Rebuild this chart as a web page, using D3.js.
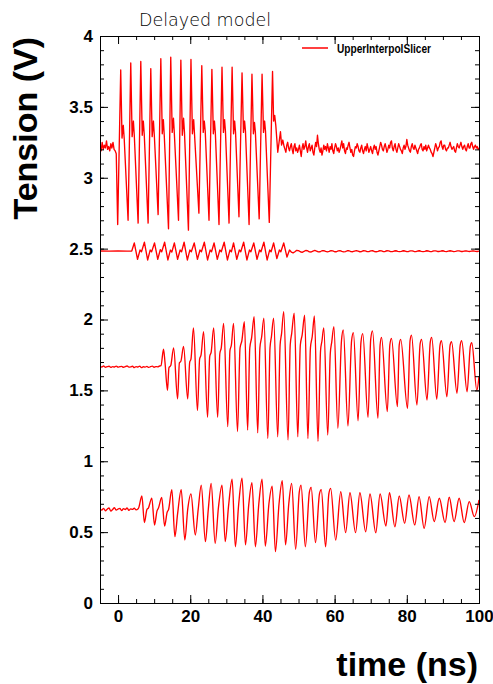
<!DOCTYPE html>
<html><head><meta charset="utf-8">
<script src="https://cdn.jsdelivr.net/npm/d3@7"></script>
<style>body{margin:0;background:#fff;} svg{display:block;}</style>
</head><body>
<svg id="c" width="493" height="684"></svg>
<script>
// ---------- text / ticks ----------
const chartTitle = "Delayed model";
const xTitle = "time (ns)";
const yTitle = "Tension (V)";
const legendLabel = "UpperInterpolSlicer";
const xTicks = [0, 20, 40, 60, 80, 100];
const xTickLabels = ["0", "20", "40", "60", "80", "100"];
const yTicks = [0, 0.5, 1, 1.5, 2, 2.5, 3, 3.5, 4];
const yTickLabels = ["0", "0.5", "1", "1.5", "2", "2.5", "3", "3.5", "4"];
const xDomain = [-5, 100];
const yDomain = [0, 4];

// ---------- trace A (upper, ~3.2 V) ----------
const upperPreStart = -5, upperPreStep = 0.3;
const upperPre = [3.22,3.19,3.25,3.20,3.23,3.21,3.26,3.20,3.22,3.19,3.24,3.21,3.25,3.20,3.19,3.17];
const upperMid = [
 [-0.1,2.67],[0.74,3.76],[1.1,3.28],[1.45,3.37],[1.7,3.28],
 [2.78,2.70],[3.52,3.81],[3.9,3.29],[4.25,3.40],[4.5,3.30],
 [5.56,2.68],[6.3,3.82],[6.7,3.30],[7.0,3.40],[7.25,3.31],
 [8.33,2.68],[9.07,3.77],[9.45,3.29],[9.8,3.40],[10.05,3.30],
 [11.1,2.74],[11.85,3.84],[12.25,3.31],[12.55,3.41],[12.8,3.30],
 [13.98,2.64],[14.6,3.85],[15.0,3.32],[15.35,3.42],[15.6,3.31],
 [16.75,2.70],[17.4,3.83],[17.8,3.30],[18.15,3.42],[18.4,3.32],
 [19.5,2.63],[20.2,3.835],[20.6,3.31],[20.95,3.41],[21.2,3.30],
 [22.4,2.75],[23.2,3.79],[23.6,3.32],[23.9,3.40],[24.15,3.33],
 [25.2,2.70],[26.0,3.765],[26.4,3.31],[26.7,3.40],[26.95,3.32],
 [27.97,2.67],[28.8,3.78],[29.2,3.32],[29.5,3.41],[29.75,3.33],
 [30.75,2.68],[31.6,3.78],[32.0,3.31],[32.3,3.40],[32.55,3.32],
 [33.5,2.725],[34.35,3.74],[34.75,3.32],[35.05,3.40],[35.3,3.33],
 [36.3,2.67],[37.1,3.73],[37.5,3.31],[37.8,3.39],[38.05,3.32],
 [39.1,2.71],[39.9,3.73],[40.3,3.32],[40.6,3.40],[40.85,3.33],
 [41.9,2.685],[42.8,3.75],[43.1,3.40],[43.4,3.44],[43.7,3.37],
 [44.25,3.18],[45.0,3.325],[45.3,3.23],[45.65,3.266]
];
const upperTailStart = 46, upperTailStep = 0.25;
const upperTail = [
 3.22,3.20,3.18,3.23,3.25,3.21,3.19,3.22,3.24,3.20,
 3.17,3.22,3.24,3.19,3.21,3.18,3.20,3.23,3.19,3.15,
 3.21,3.24,3.20,3.22,3.26,3.21,3.18,3.22,3.24,3.19,
 3.21,3.23,3.18,3.16,3.21,3.25,3.22,3.30,3.24,3.20,
 3.18,3.21,3.16,3.19,3.23,3.20,3.22,3.19,3.24,3.21,
 3.18,3.22,3.20,3.24,3.19,3.17,3.21,3.24,3.22,3.19,
 3.21,3.18,3.20,3.23,3.26,3.21,3.24,3.19,3.17,3.21,
 3.20,3.23,3.25,3.21,3.18,3.20,3.16,3.15,3.19,3.22,
 3.21,3.24,3.22,3.19,3.18,3.21,3.23,3.19,3.17,3.20,
 3.22,3.19,3.24,3.21,3.18,3.20,3.22,3.19,3.17,3.21,
 3.23,3.20,3.22,3.18,3.16,3.19,3.22,3.25,3.23,3.20,
 3.19,3.22,3.24,3.21,3.18,3.20,3.23,3.21,3.25,3.26,
 3.21,3.19,3.22,3.24,3.20,3.18,3.21,3.24,3.22,3.20,
 3.19,3.17,3.21,3.23,3.20,3.22,3.27,3.23,3.21,3.19,
 3.18,3.22,3.24,3.21,3.20,3.23,3.21,3.19,3.17,3.20,
 3.21,3.23,3.24,3.20,3.19,3.22,3.20,3.23,3.19,3.21,
 3.23,3.21,3.20,3.18,3.17,3.15,3.18,3.21,3.24,3.22,
 3.19,3.21,3.22,3.25,3.26,3.22,3.20,3.23,3.23,3.20,
 3.19,3.21,3.21,3.23,3.25,3.22,3.20,3.21,3.22,3.19,
 3.18,3.21,3.24,3.22,3.21,3.23,3.25,3.22,3.20,3.22,
 3.23,3.20,3.19,3.22,3.24,3.21,3.21,3.24,3.25,3.22,
 3.20,3.22,3.23,3.21,3.22,3.20,3.21
];

// ---------- trace B (~2.48 V) ----------
const bMid = [
 [-5,2.483],[-2.5,2.482],[0,2.484],[2.5,2.482],[3.8,2.483],
 [4.5,2.54],[5.4,2.425],[6.1,2.49],[6.5,2.478],
 [7.3,2.545],[8.2,2.42],[8.9,2.49],[9.3,2.478],
 [10.1,2.54],[11.0,2.425],[11.7,2.492],[12.1,2.478],
 [12.9,2.545],[13.8,2.42],[14.5,2.49],[14.9,2.476],
 [15.6,2.54],[16.5,2.425],[17.2,2.49],[17.6,2.478],
 [18.3,2.545],[19.2,2.42],[19.9,2.49],[20.3,2.478],
 [21.1,2.54],[22.0,2.425],[22.7,2.49],[23.1,2.478],
 [23.9,2.545],[24.8,2.42],[25.5,2.49],[25.9,2.478],
 [26.6,2.54],[27.5,2.425],[28.2,2.49],[28.6,2.478],
 [29.4,2.545],[30.3,2.42],[31.0,2.49],[31.4,2.478],
 [32.0,2.54],[32.9,2.425],[33.6,2.49],[34.0,2.478],
 [34.8,2.545],[35.7,2.42],[36.4,2.49],[36.8,2.478],
 [37.6,2.54],[38.5,2.425],[39.2,2.49],[39.6,2.478],
 [40.4,2.545],[41.3,2.42],[42.0,2.49],[42.4,2.478],
 [43.1,2.54],[44.0,2.43],[44.7,2.49],[45.1,2.478],
 [45.9,2.54],[46.8,2.44],[47.5,2.49]
];
const bTailStart = 48, bTailStep = 0.5;
const bTail = [
 2.476,2.470,2.478,2.488,2.486,2.478,2.474,2.480,2.487,2.485,
 2.477,2.476,2.483,2.487,2.483,2.477,2.478,2.485,2.486,2.480,
 2.477,2.480,2.486,2.484,2.478,2.478,2.484,2.486,2.481,2.477,
 2.479,2.485,2.485,2.479,2.478,2.483,2.486,2.482,2.478,2.480,
 2.485,2.484,2.479,2.479,2.484,2.485,2.480,2.478,2.481,2.485,
 2.484,2.479,2.480,2.485,2.484,2.479,2.479,2.483,2.485,2.481,
 2.479,2.481,2.485,2.483,2.479,2.480,2.484,2.484,2.480,2.479,
 2.483,2.485,2.481,2.479,2.481,2.485,2.483,2.479,2.480,2.484,
 2.484,2.480,2.480,2.483,2.485,2.481,2.479,2.482,2.485,2.482,
 2.479,2.481,2.484,2.484,2.480,2.480,2.483,2.484,2.481,2.480,
 2.483,2.484,2.481,2.480,2.482
];

// ---------- trace C (~1.67 V) ----------
const cPreStart = -5, cPreStep = 0.5;
const cPre = [
 1.668,1.665,1.672,1.663,1.667,1.670,1.662,1.668,1.665,1.671,
 1.664,1.667,1.669,1.663,1.668,1.672,1.664,1.666,1.670,1.661,
 1.668,1.665,1.671,1.660,1.667,1.664,1.669,1.662,1.667,1.671,
 1.663,1.668,1.666,1.672
];
const cMid = [
 [11.9,1.675],[12.6,1.79],[13.0,1.70],[13.7,1.50],[14.1,1.66],[14.6,1.675],
 [15.4,1.80],[16.5,1.44],[17.0,1.695],[17.4,1.705],
 [18.15,1.81],[19.3,1.44],[19.85,1.70],[20.2,1.72],
 [20.9,1.94],[22.0,1.357],[22.6,1.72],[23.0,1.75],
 [23.7,1.914],[24.8,1.31],[25.4,1.74],[25.8,1.77],
 [26.5,1.94],[27.6,1.31],[28.2,1.76],[28.6,1.80],
 [29.25,1.973],[30.4,1.244],[31.0,1.78],[31.4,1.82],
 [32.0,1.973],[33.1,1.21],[33.8,1.80],[34.3,1.85],
 [35.0,1.985],[35.9,1.22],[36.5,1.80],[37.0,1.87],
 [37.7,2.02],[38.7,1.20],[39.3,1.80],[39.8,1.88],
 [40.4,2.01],[41.5,1.16],[42.1,1.80],[42.5,1.88],
 [43.1,2.01],[44.25,1.173],[44.9,1.82],[45.3,1.90],
 [45.9,2.055],[47.1,1.15],[47.7,1.82],[48.1,1.90],
 [48.8,2.044],[49.8,1.173],[50.5,1.82],[51.0,1.89],
 [51.7,2.03],[52.6,1.16],[53.3,1.80],[53.8,1.88],
 [54.4,2.025],[55.4,1.14],[56.1,1.78],[56.5,1.85],
 [57.0,1.94],[58.1,1.185],[58.8,1.76],[59.2,1.84],
 [59.8,1.95],[60.9,1.232],[61.9,1.85],
 [62.4,1.926],[63.7,1.249],[64.7,1.85],
 [65.2,1.907],[66.5,1.286],[67.3,1.84],
 [67.8,1.90],[69.25,1.31],[70.0,1.86],
 [70.5,1.92],[72.0,1.303],[72.6,1.82],
 [73.0,1.874],[74.6,1.35],[75.3,1.82],
 [75.75,1.867],[77.4,1.385],[77.9,1.82],
 [78.3,1.86],[80.2,1.373],[80.9,1.85],
 [81.3,1.89],[82.8,1.397],[83.7,1.83],
 [84.1,1.86],[85.6,1.432],[86.5,1.84],
 [86.9,1.874],[88.3,1.437],[89.2,1.82],
 [89.6,1.85],[91.1,1.455],[92.0,1.82],
 [92.4,1.843],[93.9,1.48],[94.8,1.82],
 [95.2,1.85],[96.7,1.49],[97.6,1.81],
 [98.0,1.836],[99.4,1.50],[100,1.60]
];

// ---------- trace D (~0.66 V) ----------
const dPreStart = -5, dPreStep = 0.5;
const dPre = [
 0.665,0.655,0.668,0.650,0.662,0.670,0.648,0.660,0.672,0.655,
 0.663,0.668,0.652,0.666,0.659,0.671,0.654,0.664,0.660,0.669,
 0.657,0.663
];
const dMid = [
 [5.7,0.67],[6.6,0.755],[7.3,0.567],[8.0,0.66],[8.4,0.67],
 [9.35,0.74],[10.1,0.55],[10.8,0.65],[11.2,0.67],
 [12.1,0.745],[12.9,0.543],[13.6,0.64],[14.0,0.66],
 [14.9,0.80],[15.75,0.468],[16.5,0.63],
 [17.5,0.80],[18.5,0.444],[19.3,0.66],
 [20.2,0.77],[21.4,0.48],[22.2,0.66],
 [23.05,0.832],[24.2,0.433],[25.0,0.66],
 [25.8,0.844],[26.9,0.421],[27.8,0.67],
 [28.8,0.832],[29.7,0.433],[30.6,0.68],
 [31.6,0.873],[32.5,0.397],[33.4,0.69],
 [34.35,0.88],[35.3,0.41],[36.2,0.69],
 [37.1,0.849],[38.05,0.397],[39.0,0.70],
 [39.9,0.873],[40.8,0.402],[41.8,0.70],
 [42.7,0.825],[43.6,0.362],[44.6,0.70],
 [45.5,0.863],[46.4,0.41],[47.3,0.70],
 [48.1,0.844],[49.2,0.379],[50.2,0.78],
 [50.7,0.832],[51.9,0.397],[53.0,0.78],
 [53.5,0.816],[54.7,0.426],[55.8,0.77],
 [56.3,0.80],[57.5,0.397],[58.4,0.77],
 [58.9,0.809],[60.3,0.444],
 [61.7,0.785],[63.05,0.496],
 [64.25,0.778],[65.8,0.496],
 [67.0,0.778],[68.6,0.503],
 [69.8,0.769],[71.4,0.496],
 [72.6,0.769],[74.2,0.543],
 [75.2,0.778],[76.7,0.538],
 [77.9,0.755],[79.4,0.562],
 [80.6,0.762],[82.2,0.55],
 [83.4,0.75],[84.8,0.527],
 [86.2,0.75],[87.6,0.574],
 [89.0,0.739],[90.6,0.567],
 [91.75,0.746],[93.1,0.574],
 [94.5,0.739],[95.9,0.567],
 [97.3,0.715],[98.7,0.609],
 [100,0.727]
];

// ---------- assemble ----------
const seg = (start, step, vals) => vals.map((v, i) => [start + i * step, v]);
const traces = [
  {pts: seg(upperPreStart, upperPreStep, upperPre).concat(upperMid, seg(upperTailStart, upperTailStep, upperTail)), curve: d3.curveLinear},
  {pts: bMid.concat(seg(bTailStart, bTailStep, bTail)), curve: d3.curveLinear},
  {pts: seg(cPreStart, cPreStep, cPre).concat(cMid), curve: d3.curveMonotoneX},
  {pts: seg(dPreStart, dPreStep, dPre).concat(dMid), curve: d3.curveMonotoneX}
];

const svg = d3.select("#c");
const L = 100, R = 479, T = 36, B = 603;
const x = d3.scaleLinear().domain(xDomain).range([L, R]);
const y = d3.scaleLinear().domain(yDomain).range([B, T]);

const tickFont = "'Liberation Sans', Arial, Helvetica, sans-serif";

svg.append("clipPath").attr("id", "clip").append("rect")
  .attr("x", L).attr("y", T).attr("width", R - L).attr("height", B - T);

const g = svg.append("g").attr("clip-path", "url(#clip)");
traces.forEach(tr => {
  g.append("path")
    .attr("d", d3.line().x(d => x(d[0])).y(d => y(d[1])).curve(tr.curve)(tr.pts))
    .attr("fill", "none").attr("stroke", "#ff0000").attr("stroke-width", 1.35)
    .attr("stroke-linejoin", "round");
});

const xMinor = d3.range(-5, 100.001, 5);
const yMinor = d3.range(0, 4.0001, 0.1).map(v => +v.toFixed(2));

function styleAxis(sel) {
  sel.select(".domain").remove();
  sel.selectAll("line").attr("stroke", "#000");
  sel.selectAll("text").attr("font-family", tickFont).attr("font-weight", "bold")
     .attr("font-size", 17).attr("fill", "#000");
}
svg.append("g").attr("transform", `translate(0,${B})`)
  .call(d3.axisBottom(x).tickValues(xMinor).tickFormat("").tickSizeInner(-4).tickSizeOuter(0)).call(styleAxis);
svg.append("g").attr("transform", `translate(0,${B})`)
  .call(d3.axisBottom(x).tickValues(xTicks).tickFormat((d, i) => xTickLabels[i]).tickSizeInner(-8).tickSizeOuter(0).tickPadding(7)).call(styleAxis);
svg.append("g").attr("transform", `translate(0,${T})`)
  .call(d3.axisTop(x).tickValues(xMinor).tickFormat("").tickSizeInner(-4).tickSizeOuter(0)).call(styleAxis);
svg.append("g").attr("transform", `translate(0,${T})`)
  .call(d3.axisTop(x).tickValues(xTicks).tickFormat("").tickSizeInner(-8).tickSizeOuter(0)).call(styleAxis);
svg.append("g").attr("transform", `translate(${L},0)`)
  .call(d3.axisLeft(y).tickValues(yMinor).tickFormat("").tickSizeInner(-4).tickSizeOuter(0)).call(styleAxis);
svg.append("g").attr("transform", `translate(${L},0)`)
  .call(d3.axisLeft(y).tickValues(yTicks).tickFormat((d, i) => yTickLabels[i]).tickSizeInner(-8).tickSizeOuter(0).tickPadding(7)).call(styleAxis);
svg.append("g").attr("transform", `translate(${R},0)`)
  .call(d3.axisRight(y).tickValues(yMinor).tickFormat("").tickSizeInner(-4).tickSizeOuter(0)).call(styleAxis);
svg.append("g").attr("transform", `translate(${R},0)`)
  .call(d3.axisRight(y).tickValues(yTicks).tickFormat("").tickSizeInner(-8).tickSizeOuter(0)).call(styleAxis);

svg.append("rect").attr("x", L + 0.5).attr("y", T + 0.5).attr("width", R - L).attr("height", B - T)
  .attr("fill", "none").attr("stroke", "#000").attr("stroke-width", 1);

svg.append("text").attr("x", 139).attr("y", 26).text(chartTitle)
  .attr("font-family", "'DejaVu Sans', sans-serif").attr("font-weight", 200)
  .attr("font-size", 17.5).attr("fill", "#000");

svg.append("text").attr("transform", "translate(37,37) rotate(-90)").attr("text-anchor", "end")
  .text(yTitle).attr("font-family", tickFont).attr("font-weight", "bold").attr("font-size", 34).attr("fill", "#000");
svg.append("text").attr("x", 478).attr("y", 676).attr("text-anchor", "end")
  .text(xTitle).attr("font-family", tickFont).attr("font-weight", "bold").attr("font-size", 34).attr("fill", "#000");

svg.append("line").attr("x1", 302).attr("x2", 328).attr("y1", 48).attr("y2", 48)
  .attr("stroke", "#ff0000").attr("stroke-width", 1.5);
svg.append("text").attr("x", 337).attr("y", 53).text(legendLabel)
  .attr("textLength", 94).attr("lengthAdjust", "spacingAndGlyphs")
  .attr("font-family", tickFont).attr("font-weight", "bold").attr("font-size", 13).attr("fill", "#000");
</script>
</body></html>
